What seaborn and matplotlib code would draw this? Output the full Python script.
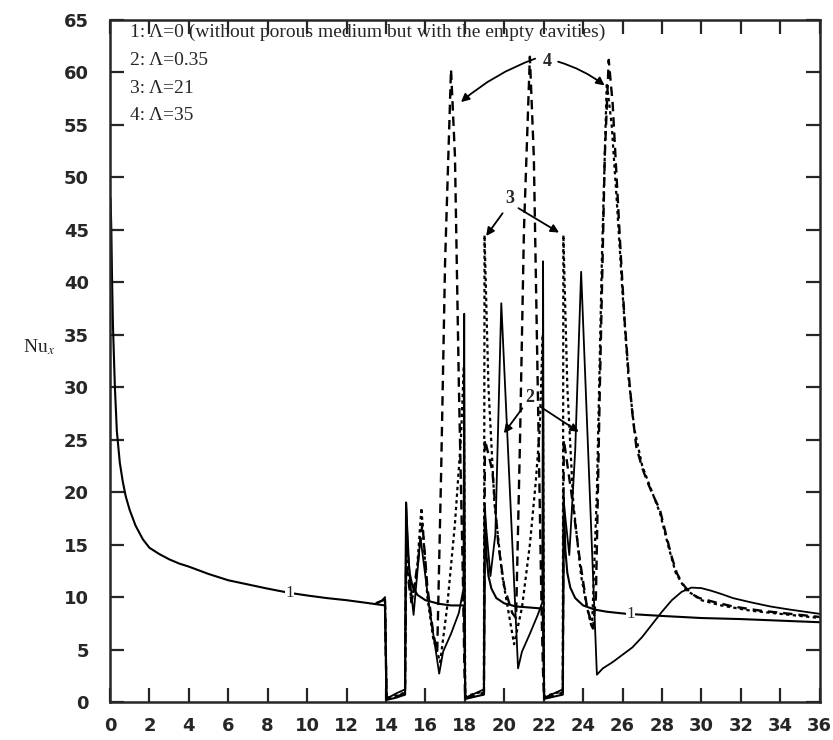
import matplotlib
matplotlib.use("Agg")
import matplotlib.pyplot as plt
import seaborn as sns

# curve 1: Lambda = 0 (empty cavities)
x1 = [0.03, 0.07, 0.1, 0.15, 0.2, 0.25, 0.35, 0.5, 0.65, 0.8, 1.0, 1.3, 1.67, 2.0, 2.5, 3.0, 3.5, 4.0, 5.0, 6.0,
      7.0, 8.0, 9.1, 10.0, 11.0, 12.0, 13.0, 13.95,
      14.03, 14.5, 14.97, 15.02, 15.1, 15.2, 15.35, 15.6, 16.0, 16.7, 17.3, 17.95,
      18.03, 18.5, 18.97, 19.02, 19.1, 19.2, 19.35, 19.6, 20.0, 20.6, 21.3, 21.95,
      22.03, 22.5, 22.97, 23.02, 23.1, 23.2, 23.35, 23.6, 24.0, 24.6, 25.2, 26.2, 28.0, 30.0, 32.0, 34.0, 36.0]
y1 = [48, 45, 41, 36, 33, 30, 25.8, 22.8, 21, 19.6, 18.3, 16.8, 15.5, 14.7, 14.1, 13.6, 13.2, 12.9, 12.2, 11.6,
      11.2, 10.8, 10.4, 10.15, 9.9, 9.7, 9.45, 9.2,
      0.2, 0.4, 0.7, 19, 14.5, 12.3, 11.0, 10.2, 9.7, 9.35, 9.2, 9.2,
      0.3, 0.5, 0.7, 18.5, 14.0, 12.0, 10.8, 9.9, 9.4, 9.1, 9.0, 8.9,
      0.3, 0.5, 0.7, 19.5, 14.5, 12.3, 10.9, 9.9, 9.2, 8.8, 8.6, 8.4, 8.2, 8.0, 7.9, 7.75, 7.6]

# curve 2: Lambda = 0.35
x2 = [13.5, 13.85, 13.95, 14.03, 14.5, 14.97, 15.02, 15.2, 15.4, 15.75, 16.2, 16.7, 16.9, 17.3, 17.7, 17.93, 17.97,
      18.02, 18.5, 18.97, 19.02, 19.3, 19.55, 19.85, 20.7, 20.9, 21.3, 21.7, 21.93, 21.97,
      22.02, 22.5, 22.97, 23.02, 23.3, 23.6, 23.9, 24.7, 25.0, 25.5, 26.0, 26.5, 27.0, 27.5, 28.0, 28.5,
      29.0, 29.5, 30.0, 30.5, 31.0, 31.6, 32.5, 33.5, 34.5, 36.0]
y2 = [9.4, 9.7, 10.0, 0.3, 0.8, 1.2, 19, 12, 8.3, 15.7, 9, 2.7, 4.8, 6.5, 8.5, 10.8, 37,
      0.4, 0.8, 1.2, 18, 12, 16, 38, 3.2, 4.8, 6.5, 8.3, 9.5, 42,
      0.4, 0.8, 1.2, 19, 14, 24, 41, 2.6, 3.2, 3.8, 4.5, 5.2, 6.2, 7.4, 8.6, 9.7,
      10.5, 10.9, 10.85, 10.6, 10.3, 9.9, 9.5, 9.1, 8.8, 8.4]

# curve 3: Lambda = 21
x3 = [13.5, 13.85, 13.95, 14.03, 14.5, 14.97, 15.02, 15.3, 15.55, 15.8, 16.1, 16.4, 16.75, 17.1, 17.5, 17.8, 17.95,
      18.02, 18.5, 18.97, 19.0, 19.2, 19.5, 19.9, 20.5, 20.9, 21.3, 21.6, 21.8, 21.95,
      22.02, 22.5, 22.97, 23.0, 23.2, 23.5, 23.9, 24.2, 24.45, 24.7, 24.95, 25.2, 25.45, 25.7, 26.0, 26.3,
      26.6, 27.0, 27.5, 27.9, 28.3, 28.7, 29.2, 30.0, 31.0, 32.5, 34.0, 36.0]
y3 = [9.4, 9.7, 10.0, 0.4, 0.6, 0.9, 14, 9.5, 12, 18.5, 10, 6, 3.8, 9, 17, 25, 32,
      0.5, 0.8, 1.0, 44.5, 30, 19, 12, 5.5, 9, 15, 21, 26, 35,
      0.5, 0.8, 1.0, 44.5, 30, 19, 12, 9, 7, 20, 42, 59, 55, 48, 39, 31,
      26, 22.5, 20, 18, 15, 12.3, 10.7, 9.7, 9.2, 8.7, 8.4, 8.0]

# curve 4: Lambda = 35
x4 = [13.5, 13.85, 13.95, 14.03, 14.5, 14.97, 15.02, 15.3, 15.6, 15.85, 16.1, 16.4, 16.6, 16.8, 17.0, 17.3, 17.5,
      17.7, 17.9, 17.98, 18.02, 18.5, 18.97, 19.02, 19.4, 19.7, 20.0, 20.4, 20.6, 20.8, 21.0, 21.3, 21.5,
      21.7, 21.9, 21.98, 22.02, 22.5, 22.97, 23.02, 23.4, 23.8, 24.2, 24.5, 24.65, 24.85, 25.1, 25.3, 25.5,
      25.7, 25.9, 26.1, 26.3, 26.5, 26.7, 27.0, 27.3, 27.6, 27.9, 28.2, 28.5, 28.75, 29.0, 29.2, 29.5, 29.9,
      30.7, 31.6, 33.0, 34.5, 36.0]
y4 = [9.4, 9.7, 10.0, 0.3, 0.5, 0.8, 13, 9.5, 13, 17, 11, 6.5, 4.8, 22, 42, 60.3, 52,
      30, 12, 3, 0.3, 0.6, 0.9, 25, 22, 15, 11, 8.5, 8, 25, 45, 61.5, 52,
      30, 8, 2, 0.4, 0.6, 0.9, 25, 20, 14, 9, 7, 10, 30, 52, 61.2, 57,
      50, 43, 36.5, 31.5, 27.5, 24.3, 22.3, 20.8, 19.5, 18.3, 16, 13.8, 12.3, 11.4, 10.9, 10.3, 9.9,
      9.5, 9.1, 8.7, 8.4, 8.1]

legend_lines = ["1: \u039b=0 (without porous medium but with the empty cavities)",
                "2: \u039b=0.35", "3: \u039b=21", "4: \u039b=35"]

sns.set_style("ticks")
plt.rcParams['font.family'] = ['Liberation Serif', 'DejaVu Serif']
plt.rcParams['mathtext.fontset'] = 'stix'

fig = plt.figure(figsize=(8.33, 7.40), dpi=100)
ax = fig.add_axes([0.132, 0.0514, 0.852, 0.9216])

sns.lineplot(x=x1, y=y1, ax=ax, color='black', lw=1.5, estimator=None)
sns.lineplot(x=x2, y=y2, ax=ax, color='black', lw=1.3, estimator=None)
sns.lineplot(x=x3, y=y3, ax=ax, color='black', lw=1.6, linestyle=(0, (1.5, 1.5)), estimator=None)
sns.lineplot(x=x4, y=y4, ax=ax, color='black', lw=1.7, linestyle=(0, (4, 2.5)), estimator=None)

ax.set_xlim(0, 36)
ax.set_ylim(0, 65)
ax.set_xticks(range(0, 37, 2))
ax.set_yticks(range(0, 66, 5))
ax.tick_params(direction='in', length=10, width=1.6, top=True, right=True,
               labelsize=13)
ax.tick_params(axis='y', pad=15)
ax.tick_params(axis='x', pad=11)
for lab in ax.get_xticklabels() + ax.get_yticklabels():
    lab.set_fontfamily('DejaVu Sans')
    lab.set_fontweight('bold')
for sp in ax.spines.values():
    sp.set_linewidth(1.8)

ax.set_xlabel('')
ax.text(-0.1, 0.52, 'Nu$_x$', transform=ax.transAxes, fontsize=14, ha='center', va='center')

# legend text block
for i, t in enumerate(legend_lines):
    ax.text(1.0, 63.8 - i * 2.65, t, fontsize=14, ha='left', va='center')

# curve labels and arrows
arrow = dict(arrowstyle='-|>', lw=1.3, color='black', mutation_scale=12)
ax.text(22.2, 61.0, '4', fontsize=13, fontweight='bold', ha='center', va='center')
ax.annotate('', xy=(17.7, 57.0), xytext=(21.7, 61.4),
            arrowprops=dict(arrow, connectionstyle='arc3,rad=0.1'))
ax.annotate('', xy=(25.2, 58.6), xytext=(22.6, 61.1),
            arrowprops=dict(arrow, connectionstyle='arc3,rad=-0.1'))

ax.text(20.3, 48.0, '3', fontsize=13, fontweight='bold', ha='center', va='center')
ax.annotate('', xy=(19.0, 44.2), xytext=(20.0, 46.8), arrowprops=arrow)
ax.annotate('', xy=(22.9, 44.6), xytext=(20.6, 47.2), arrowprops=arrow)

ax.text(21.3, 29.0, '2', fontsize=13, fontweight='bold', ha='center', va='center')
ax.annotate('', xy=(19.9, 25.4), xytext=(21.0, 28.2), arrowprops=arrow)
ax.annotate('', xy=(23.9, 25.6), xytext=(21.7, 28.3), arrowprops=arrow)

ax.text(9.1, 10.4, '1', fontsize=12, ha='center', va='center',
        bbox=dict(facecolor='white', edgecolor='none', pad=0.3))
ax.text(26.4, 8.4, '1', fontsize=12, ha='center', va='center',
        bbox=dict(facecolor='white', edgecolor='none', pad=0.3))

fig.savefig('out.png', dpi=100)
